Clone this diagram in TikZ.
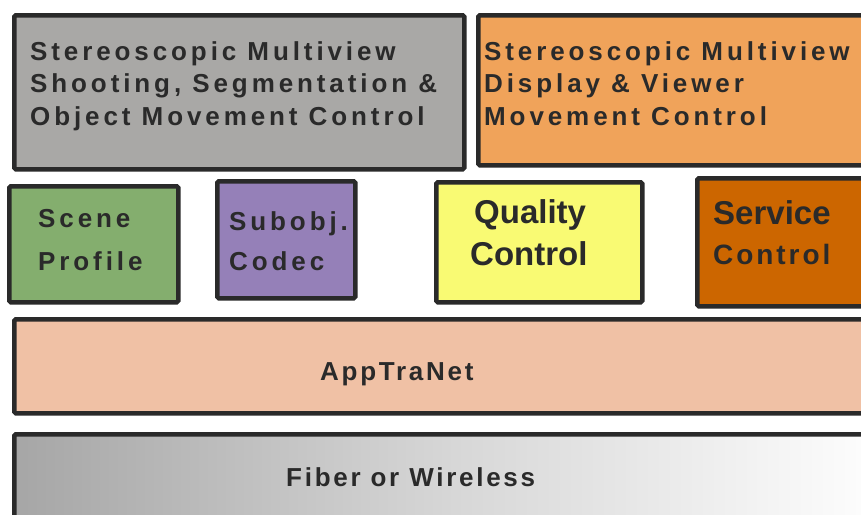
\documentclass[tikz,border=0pt]{standalone}
\usepackage{fontspec}
\setmainfont{Liberation Sans}
\newfontfamily\spaced{Liberation Sans}[LetterSpace=15]
\newfontfamily\spacedlite{Liberation Sans}[LetterSpace=10.5]
\usetikzlibrary{positioning}
\definecolor{ink}{HTML}{2A2A2A}
\definecolor{graybox}{HTML}{A9A8A6}
\definecolor{orangebox}{HTML}{F0A35A}
\definecolor{greenbox}{HTML}{84AE6E}
\definecolor{purplebox}{HTML}{9580B8}
\definecolor{yellowbox}{HTML}{F9FA73}
\definecolor{rustbox}{HTML}{CC6600}
\definecolor{peachbox}{HTML}{F0C1A5}
\definecolor{fibergray}{HTML}{A6A6A6}
\tikzset{
  layerbox/.style={draw=ink, line width=4.5pt, rounded corners=1.5pt, anchor=north west, inner sep=0pt},
  toptext/.style={anchor=base west, inner sep=0pt, text=ink, font=\spaced\bfseries\fontsize{26}{32}\selectfont},
  midtext/.style={anchor=base west, inner sep=0pt, text=ink, font=\bfseries\fontsize{33}{40}\selectfont},
  bottext/.style={anchor=base west, inner sep=0pt, text=ink, font=\spacedlite\bfseries\fontsize{26}{30}\selectfont}
}
\begin{document}
\begin{tikzpicture}[x=1pt,y=-1pt]
\useasboundingbox (0,0) rectangle (861,514);
\clip (0,0) rectangle (861,514);
% top row
\node[layerbox, fill=graybox, minimum width=450pt, minimum height=154pt] (shoot) at (12,13) {};
\node[layerbox, fill=orangebox, minimum width=420pt, minimum height=150pt] (display) at (476,13) {};
% middle row
\node[layerbox, fill=greenbox, minimum width=169pt, minimum height=116pt] (scene) at (7,184) {};
\node[layerbox, fill=purplebox, minimum width=138pt, minimum height=117pt] (subobj) at (215,179) {};
\node[layerbox, fill=yellowbox, minimum width=206pt, minimum height=120pt] (quality) at (434,180) {};
\node[layerbox, fill=rustbox, minimum width=200pt, minimum height=128pt] (service) at (695,176) {};
% lower layers
\node[layerbox, fill=peachbox, minimum width=880pt, minimum height=94pt] (apptranet) at (12,317) {};
\node[layerbox, left color=fibergray, right color=white, middle color=fibergray!45, minimum width=880pt, minimum height=110pt] (fiber) at (12,432) {};
% texts
\node[toptext] (shootA) at (30,60) {Stereoscopic Multiview};
\node[toptext] (shootB) at (30,92) {Shooting, Segmentation \&};
\node[toptext] (shootC) at (30,125) {Object Movement Control};
\node[toptext] (dispA) at (484,60) {Stereoscopic Multiview};
\node[toptext] (dispB) at (484,92) {Display \& Viewer};
\node[toptext] (dispC) at (484,125) {Movement Control};
\node[toptext] (sceneA) at (38,227) {Scene};
\node[toptext] (sceneB) at (38,270) {Profile};
\node[toptext] (subA) at (229,230) {Subobj.};
\node[toptext] (subB) at (229,270) {Codec};
\node[midtext] (qualA) at (474,223) {Quality};
\node[midtext] (qualB) at (470,265) {Control};
\node[midtext] (servA) at (713,224) {Service};
\node[bottext, font=\spacedlite\bfseries\fontsize{28}{32}\selectfont] (servB) at (713,264) {Control};
\node[bottext] (appT) at (320,380) {AppTraNet};
\node[bottext] (fibT) at (286,486) {Fiber or Wireless};
\end{tikzpicture}
\end{document}
